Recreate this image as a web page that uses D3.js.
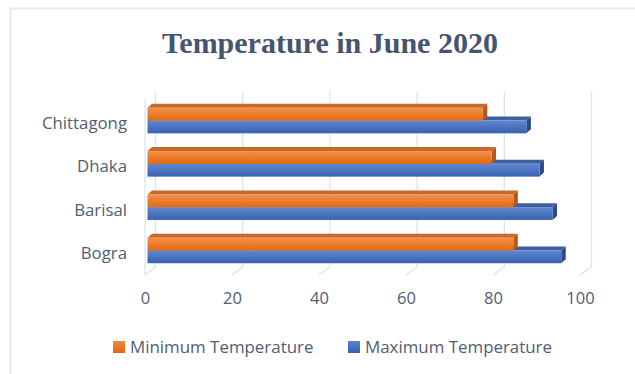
<!DOCTYPE html>
<html>
<head>
<meta charset="utf-8">
<script src="https://cdn.jsdelivr.net/npm/d3@7"></script>
<style>
  html, body { margin: 0; padding: 0; background: #fff; }
  svg { display: block; }
</style>
</head>
<body>
<svg id="chart" width="635" height="374"></svg>
<script>
// June 2020 temperatures (°F) by city
const categories = ["Chittagong", "Dhaka", "Barisal", "Bogra"];
const minTemp = [77, 79, 84, 84];
const maxTemp = [87, 90, 93, 95];
const tickValues = [0, 20, 40, 60, 80, 100];
const seriesNames = ["Minimum Temperature", "Maximum Temperature"];

const W = 635, H = 374;
const svg = d3.select("#chart");
const labelFont = "'Open Sans', 'Noto Sans', sans-serif";
const textColor = "#525d71";

// outer chart-area frame (top and left edges visible)
svg.append("path")
  .attr("d", `M10.5,${H} V8.5 H${W}`)
  .attr("fill", "none").attr("stroke", "#e3e7ee").attr("stroke-width", 2);

// title
svg.append("text")
  .attr("x", 330).attr("y", 53)
  .attr("text-anchor", "middle")
  .attr("font-family", "'Liberation Serif', 'Times New Roman', serif")
  .attr("font-weight", "bold").attr("font-size", 30)
  .attr("fill", "#465470")
  .text("Temperature in June 2020");

// scales: front edge of the floor, bar front faces, back wall
const xFront = d3.scaleLinear().domain([0, 100]).range([145, 580]);
const xBar = d3.scaleLinear().domain([0, 100]).range([147.5, 583]);
const xBack = d3.scaleLinear().domain([0, 100]).range([155.5, 591.5]);
const backTop = 92, backBottom = 267, frontBottom = 275;

const y = d3.scaleBand().domain(categories).range([90, 281]).padding(0.41);
const ySub = d3.scaleBand().domain(["min", "max"]).range([0, y.bandwidth()]);

// gridlines: back wall verticals plus the floor diagonals
const grid = svg.append("g").attr("fill", "none").attr("stroke", "#dde3ee").attr("stroke-width", 1.3);
grid.selectAll("path.g").data(tickValues).join("path")
  .attr("class", "g")
  .attr("d", d => `M${xBack(d)},${backTop} V${backBottom} L${xFront(d)},${frontBottom}`);
grid.append("path").attr("d", `M${xFront(0)},99 V${frontBottom}`);

// gradients for the bar front faces
const defs = svg.append("defs");
function grad(id, c1, c2) {
  const g = defs.append("linearGradient").attr("id", id).attr("x1", 0).attr("x2", 0).attr("y1", 0).attr("y2", 1);
  g.append("stop").attr("offset", "0%").attr("stop-color", c1);
  g.append("stop").attr("offset", "100%").attr("stop-color", c2);
}
grad("gMin", "#f4914a", "#e2690f");
grad("gMax", "#6088d2", "#3a60ad");
grad("gMinLeg", "#f08a3e", "#e2690f");
grad("gMaxLeg", "#5a82cc", "#3a60ad");

const styles = {
  max: { front: "url(#gMax)", top: "#3f5f9f", side: "#2e4a86" },
  min: { front: "url(#gMin)", top: "#c7682d", side: "#b4581c" }
};
const dx = 4.5, dy = -4;

// draw a bar as a 3D box: front face, top face, right side face
function drawBar(g, key, cat, value) {
  const s = styles[key];
  const x0 = xBar(0), x1 = xBar(value);
  const y0 = y(cat) + ySub(key), y1 = y0 + ySub.bandwidth();
  g.append("path").attr("fill", s.top)
    .attr("d", `M${x0},${y0} L${x0 + dx},${y0 + dy} L${x1 + dx},${y0 + dy} L${x1},${y0} Z`);
  g.append("path").attr("fill", s.side)
    .attr("d", `M${x1},${y0} L${x1 + dx},${y0 + dy} L${x1 + dx},${y1 + dy} L${x1},${y1} Z`);
  g.append("rect").attr("x", x0).attr("y", y0).attr("width", x1 - x0).attr("height", y1 - y0)
    .attr("fill", s.front);
}

const bars = svg.append("g");
categories.forEach((c, i) => {
  drawBar(bars, "max", c, maxTemp[i]);
  drawBar(bars, "min", c, minTemp[i]);
});

// category labels
svg.append("g").selectAll("text").data(categories).join("text")
  .attr("x", 127).attr("y", d => y(d) + y.bandwidth() / 2 + 4)
  .attr("text-anchor", "end").attr("dominant-baseline", "middle")
  .attr("font-family", labelFont).attr("font-size", 16.8).attr("fill", textColor)
  .text(d => d);

// value axis
const axis = d3.axisBottom(xFront).tickValues(tickValues).tickSize(0).tickPadding(0);
const ax = svg.append("g").attr("transform", "translate(0,292)").call(axis);
ax.select(".domain").remove();
ax.selectAll("text").attr("font-family", labelFont).attr("font-size", 16.5).attr("fill", textColor);

// legend
const legend = svg.append("g").attr("font-family", labelFont).attr("font-size", 16.9).attr("fill", textColor);
const legItems = [
  { name: seriesNames[0], fill: "url(#gMinLeg)", x: 113 },
  { name: seriesNames[1], fill: "url(#gMaxLeg)", x: 348 }
];
legItems.forEach(it => {
  legend.append("rect").attr("x", it.x).attr("y", 341).attr("width", 12).attr("height", 12).attr("fill", it.fill);
  legend.append("text").attr("x", it.x + 17).attr("y", 353).text(it.name);
});
</script>
</body>
</html>
